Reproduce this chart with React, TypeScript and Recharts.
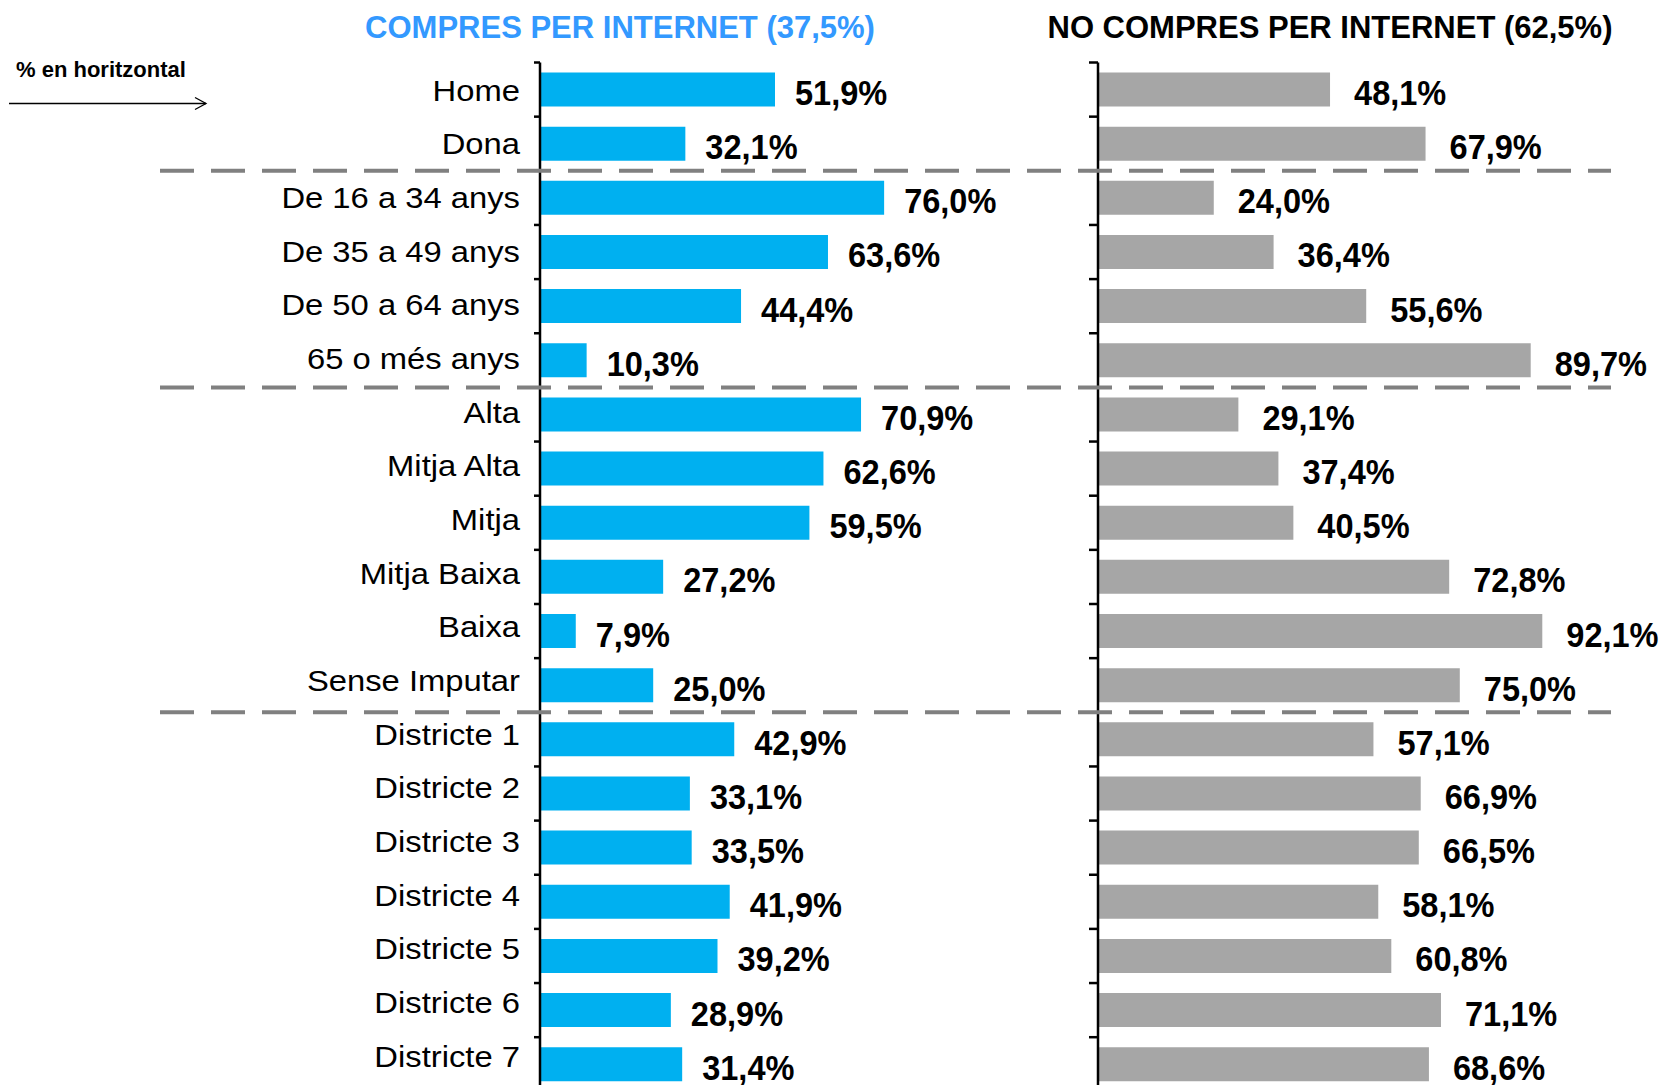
import React from 'react';
import { BarChart, Bar, XAxis, YAxis, LabelList } from 'recharts';

const categories = [
  'Home', 'Dona',
  'De 16 a 34 anys', 'De 35 a 49 anys', 'De 50 a 64 anys', '65 o més anys',
  'Alta', 'Mitja Alta', 'Mitja', 'Mitja Baixa', 'Baixa', 'Sense Imputar',
  'Districte 1', 'Districte 2', 'Districte 3', 'Districte 4', 'Districte 5', 'Districte 6', 'Districte 7',
];
const compres = [51.9, 32.1, 76.0, 63.6, 44.4, 10.3, 70.9, 62.6, 59.5, 27.2, 7.9, 25.0, 42.9, 33.1, 33.5, 41.9, 39.2, 28.9, 31.4];
const noCompres = [48.1, 67.9, 24.0, 36.4, 55.6, 89.7, 29.1, 37.4, 40.5, 72.8, 92.1, 75.0, 57.1, 66.9, 66.5, 58.1, 60.8, 71.1, 68.6];
const groupStarts = ['De 16 a 34 anys', 'Alta', 'Districte 1'];
const titleLeft = 'COMPRES PER INTERNET (37,5%)';
const titleRight = 'NO COMPRES PER INTERNET (62,5%)';
const note = '% en horitzontal';

const leftData = categories.map((c, i) => ({ cat: c, v: compres[i] }));
const rightData = categories.map((c, i) => ({ cat: c, v: noCompres[i] }));

const FONT = "'Liberation Sans', Arial, sans-serif";
const CHART_H = 1100;
const TOP = 62.5;
const BOTTOM = 8.65;
const BAND = (CHART_H - TOP - BOTTOM) / categories.length;

const fmt = (v: number) => v.toFixed(1).replace('.', ',') + '%';

function makeTick(axisX: number, tickLen: number, dashFrom: number, dashTo: number, dashOffset: number, showLabel: boolean) {
  return (props: any) => {
    const { y, payload } = props;
    const idx = categories.indexOf(payload.value);
    const top = y - BAND / 2;
    return (
      <g>
        <line x1={axisX - tickLen} x2={axisX} y1={top} y2={top} stroke="#000" strokeWidth={2.5} />
        {idx === categories.length - 1 && (
          <line x1={axisX - tickLen} x2={axisX} y1={y + BAND / 2} y2={y + BAND / 2} stroke="#000" strokeWidth={2.5} />
        )}
        {groupStarts.includes(payload.value) && (
          <line x1={dashFrom} x2={dashTo} y1={top} y2={top} stroke="#808080" strokeWidth={4}
            strokeDasharray="34 17" strokeDashoffset={dashOffset} />
        )}
        {showLabel && (
          <text transform={`translate(520, ${y + 11 - 0.48 * idx}) scale(1.13, 1)`} textAnchor="end"
            fontFamily={FONT} fontSize={29} fill="#000">
            {payload.value}
          </text>
        )}
      </g>
    );
  };
}

function makeLabel(offset: number) {
  return (p: any) => {
    const x = Number(p.x), y = Number(p.y), w = Number(p.width), h = Number(p.height);
    return (
      <text transform={`translate(${x + w + offset}, ${y + h / 2 + 15.5}) scale(0.93, 1)`}
        fontFamily={FONT} fontSize={35} fontWeight="bold" fill="#000">
        {fmt(Number(p.value))}
      </text>
    );
  };
}

export default function App() {
  return (
    <div style={{ position: 'fixed', left: 0, top: 0, width: 1664, height: 1085, overflow: 'hidden', background: '#fff' }}>
      <div style={{ position: 'absolute', left: 0, top: 0 }}>
        <BarChart layout="vertical" data={leftData} width={1000} height={CHART_H}
          margin={{ top: TOP, right: 7.2, bottom: BOTTOM, left: 0 }}>
          <XAxis type="number" domain={[0, 100]} hide />
          <YAxis type="category" dataKey="cat" width={540} interval={0} tickLine={false}
            axisLine={{ stroke: '#000', strokeWidth: 2.5 }}
            tick={makeTick(540, 6, 160, 1000, 0, true)} />
          <Bar dataKey="v" fill="#00B0F0" barSize={34} isAnimationActive={false}>
            <LabelList dataKey="v" content={makeLabel(20)} />
          </Bar>
        </BarChart>
      </div>
      <div style={{ position: 'absolute', left: 1000, top: 0 }}>
        <BarChart layout="vertical" data={rightData} width={664} height={CHART_H}
          margin={{ top: TOP, right: 83.6, bottom: BOTTOM, left: 0 }}>
          <XAxis type="number" domain={[0, 100]} hide />
          <YAxis type="category" dataKey="cat" width={98} interval={0} tickLine={false}
            axisLine={{ stroke: '#000', strokeWidth: 2.5 }}
            tick={makeTick(98, 9, 0, 611, 24, false)} />
          <Bar dataKey="v" fill="#A6A6A6" barSize={34} isAnimationActive={false}>
            <LabelList dataKey="v" content={makeLabel(24)} />
          </Bar>
        </BarChart>
      </div>
      <svg width={1664} height={1085} style={{ position: 'absolute', left: 0, top: 0, pointerEvents: 'none' }}>
        <text x={620} y={37.5} textAnchor="middle" fontFamily={FONT} fontWeight="bold" fontSize={31} fill="#3399FF">
          {titleLeft}
        </text>
        <text x={1330} y={37.5} textAnchor="middle" fontFamily={FONT} fontWeight="bold" fontSize={31} fill="#000">
          {titleRight}
        </text>
        <text x={16} y={77} fontFamily={FONT} fontWeight="bold" fontSize={22} fill="#000">{note}</text>
        <line x1={9} x2={206} y1={103.5} y2={103.5} stroke="#000" strokeWidth={1.3} />
        <polyline points="195,97.5 206,103.5 195,109.5" fill="none" stroke="#000" strokeWidth={1.3} />
      </svg>
    </div>
  );
}
